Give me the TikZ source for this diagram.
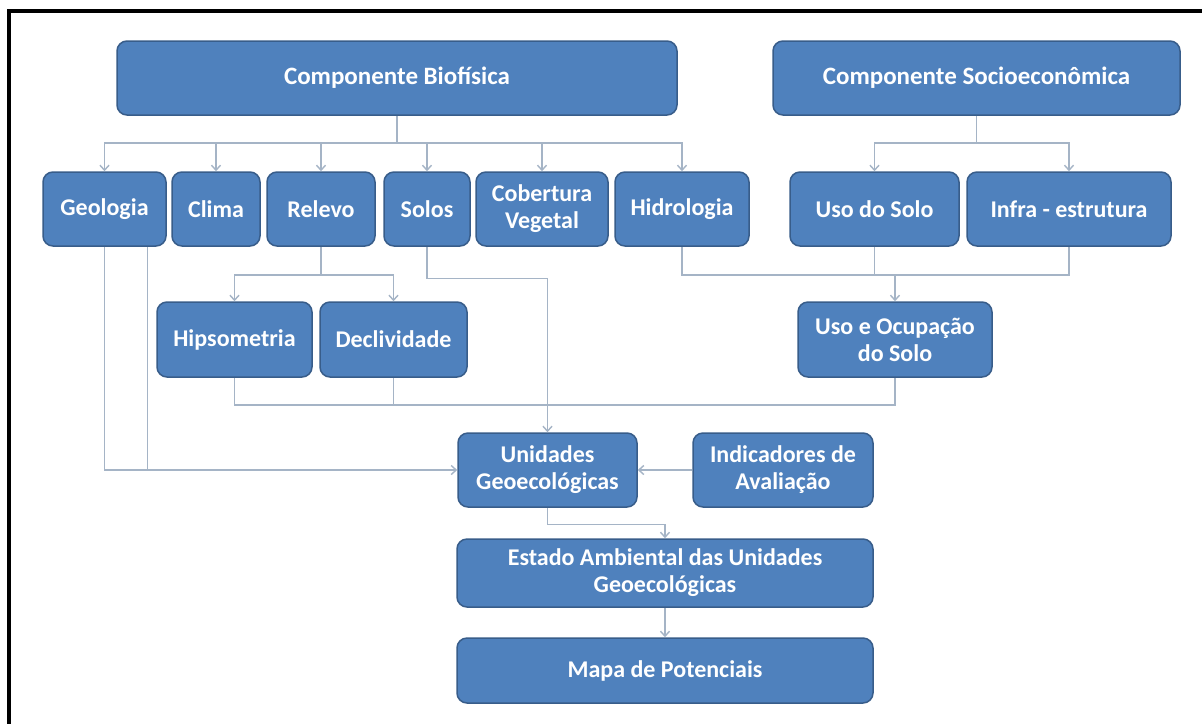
\documentclass[tikz,border=0pt]{standalone}
\usepackage{fontspec}
\setmainfont{Carlito}
\usetikzlibrary{arrows.meta}
\definecolor{boxblue}{HTML}{4F81BD}
\definecolor{boxedge}{HTML}{385D8A}
\definecolor{linegray}{HTML}{A5B4C6}
\newcommand{\bx}[6]{\node[box, minimum width={(#4-#2)*1pt}, minimum height={(#5-#3)*1pt}] (#1) at ({(#2+#4)/2},{(#3+#5)/2}) {#6};}
\begin{document}
\begin{tikzpicture}[x=1pt,y=-1pt,
  box/.style={draw=boxedge, line width=1.5pt, fill=boxblue, rounded corners=10pt, text=white,
    font=\fontsize{24}{27}\selectfont\bfseries, align=center, inner sep=0pt},
  conn/.style={draw=linegray, line width=1.4pt},
  arr/.style={conn, -{Straight Barb[length=5pt,width=9pt]}}]
\useasboundingbox (0,0) rectangle (1202,724);
\fill[white] (0,0) rectangle (1202,724);
\draw[line width=4pt] (7,11) -- (1202,11);
\draw[line width=4pt] (9,11) -- (9,724);

\bx{bio}{117}{41}{677}{115}{\fontsize{25}{28}\selectfont Componente Biofísica}
\bx{soc}{773}{41}{1180}{115}{\fontsize{25}{28}\selectfont Componente Socioeconômica}

\bx{geo}{43}{172}{166}{246}{Geologia}
\bx{cli}{172}{172}{260}{246}{Clima}
\bx{rel}{267}{172}{375}{246}{Relevo}
\bx{sol}{384}{172}{470}{246}{Solos}
\bx{cob}{476}{172}{608}{246}{Cobertura\\Vegetal}
\bx{hid}{615}{172}{749}{246}{Hidrologia}
\bx{uso}{790}{172}{959}{246}{Uso do Solo}
\bx{inf}{967}{172}{1171}{246}{Infra - estrutura}

\bx{hip}{157}{302}{312}{377}{Hipsometria}
\bx{dec}{320}{302}{467}{377}{Declividade}
\bx{uoc}{798}{302}{992}{377}{Uso e Ocupação\\do Solo}

\bx{uni}{458}{433}{637}{507}{Unidades\\Geoecológicas}
\bx{ind}{693}{433}{873}{507}{Indicadores de\\Avaliação}
\bx{est}{457}{539}{873}{607}{Estado Ambiental das Unidades\\Geoecológicas}
\bx{map}{457}{638}{873}{703}{Mapa de Potenciais}

% Biofisica bus
\coordinate (bb) at (bio.south |- 0,143);
\draw[conn] (bio.south) -- (bb);
\foreach \n in {geo,cli,rel,sol,cob,hid} \draw[arr] (bb) -| (\n.north);
% Socio bus
\coordinate (sb) at (soc.south |- 0,143);
\draw[conn] (soc.south) -- (sb);
\foreach \n in {uso,inf} \draw[arr] (sb) -| (\n.north);
% Relevo bus
\coordinate (rb) at (rel.south |- 0,275);
\draw[conn] (rel.south) -- (rb);
\draw[arr] (rb) -| (hip.north);
\draw[arr] (rb) -| (dec.north);
% Geologia lines
\draw[arr] (geo.south) |- (uni.west);
\draw[conn] ([xshift=43pt]geo.south) -- ([xshift=43pt]geo.south |- uni.west);
% Solos
\draw[arr] (sol.south) -- ++(0,32) -| (uni.north);
% Hidrologia, uso, infra
\coordinate (hb) at (uoc.north |- 0,275);
\draw[conn] (hid.south) |- (hb);
\draw[conn] (inf.south) |- (hb);
\draw[conn] (uso.south) -- (uso.south |- hb);
\draw[arr] (hb) -- (uoc.north);
% lower bus
\coordinate (lb) at (uni.north |- 0,405);
\draw[conn] (hip.south) |- (lb);
\draw[conn] (dec.south) -- (dec.south |- lb);
\draw[conn] (uoc.south) |- (lb);
% bottom
\draw[arr] (ind.west) -- (uni.east);
\draw[arr] (uni.south) -- ++(0,17) -| (est.north);
\draw[arr] (est.south) -- (map.north);
\end{tikzpicture}
\end{document}
